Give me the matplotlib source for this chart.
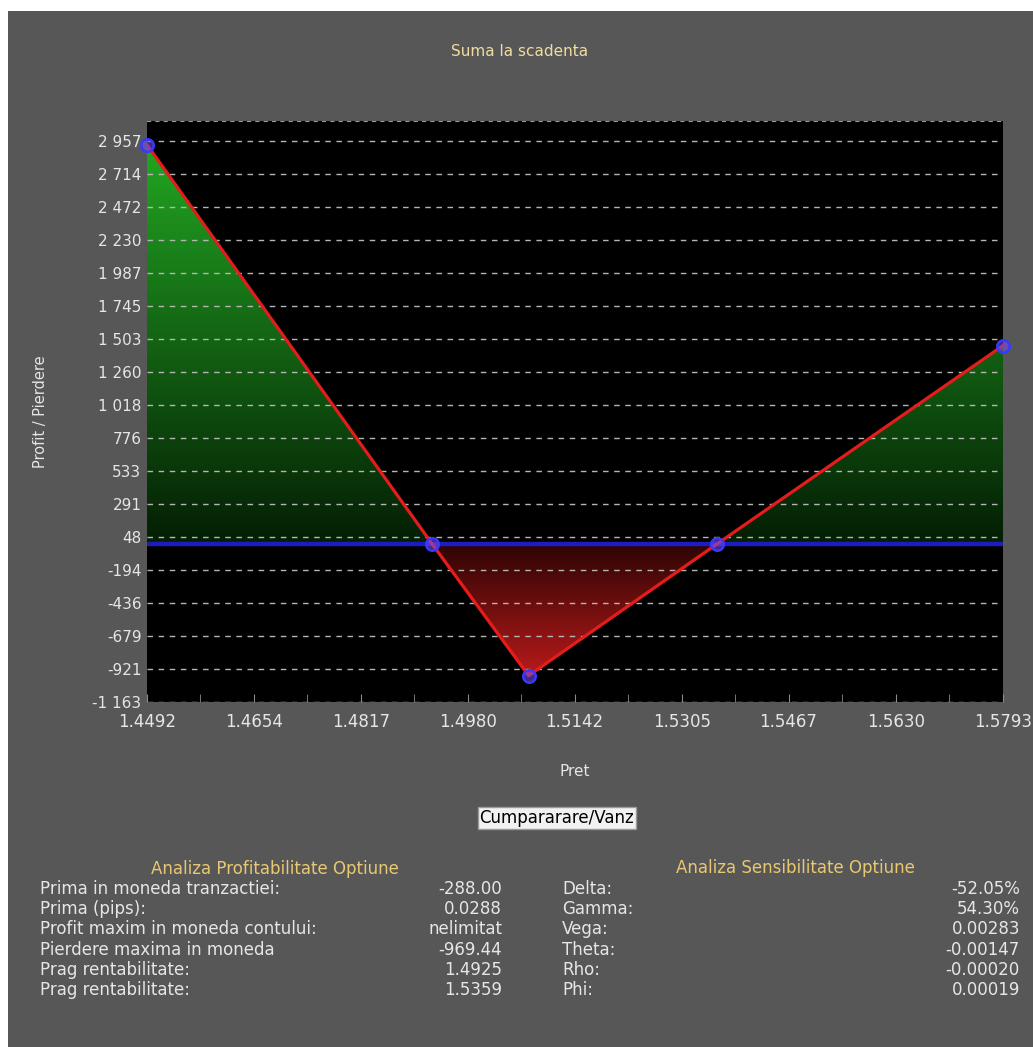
import numpy as np
import matplotlib
matplotlib.use('Agg')
import matplotlib.pyplot as plt
from matplotlib.colors import LinearSegmentedColormap
from matplotlib.patches import Rectangle

# payoff at expiry
price = [1.4492, 1.4925, 1.5072, 1.5359, 1.5793]
pl = [2930, 0, -969.44, 0, 1455]

ytick_vals = [-1163, -921, -679, -436, -194, 48, 291, 533, 776, 1018, 1260, 1503, 1745, 1987, 2230, 2472, 2714, 2957]
ytick_lbls = ["-1 163", "-921", "-679", "-436", "-194", "48", "291", "533", "776", "1 018", "1 260", "1 503", "1 745", "1 987", "2 230", "2 472", "2 714", "2 957"]
xtick_lbls = ["1.4492", "1.4654", "1.4817", "1.4980", "1.5142", "1.5305", "1.5467", "1.5630", "1.5793"]
xtick_vals = [float(s) for s in xtick_lbls]

profit_rows = ["Prima in moneda tranzactiei:", "Prima (pips):", "Profit maxim in moneda contului:",
               "Pierdere maxima in moneda", "Prag rentabilitate:", "Prag rentabilitate:"]
profit_vals = ["-288.00", "0.0288", "nelimitat", "-969.44", "1.4925", "1.5359"]
sens_rows = ["Delta:", "Gamma:", "Vega:", "Theta:", "Rho:", "Phi:"]
sens_vals = ["-52.05%", "54.30%", "0.00283", "-0.00147", "-0.00020", "0.00019"]

W, H = 1033, 1047
BG = '#575757'
TXT = '#e6e6e6'
GOLD = '#e8c870'

fig = plt.figure(figsize=(W / 100, H / 100), dpi=100, facecolor='white')
fig.patches.append(Rectangle((8 / W, 0), 1 - 8 / W, 1 - 11 / H, transform=fig.transFigure,
                             facecolor=BG, edgecolor='none', zorder=-10))

ax = fig.add_axes([147 / W, 1 - 702 / H, (1003 - 147) / W, (702 - 121) / H])
ax.set_facecolor('black')
for s in ax.spines.values():
    s.set_visible(False)

x0, x1 = price[0], price[-1]
ytop = 3105
ybot = -1163

# gradient fills, clipped to the area between curve and zero
grad = np.linspace(0, 1, 256).reshape(-1, 1)
green_cm = LinearSegmentedColormap.from_list('g', ['#041e04', '#22a622'])
red_cm = LinearSegmentedColormap.from_list('r', ['#b81a1a', '#2e0404'])
pl_arr = np.array(pl)

pos = ax.fill_between(price, np.maximum(pl_arr, 0), 0, facecolor='none', edgecolor='none')
im = ax.imshow(grad, cmap=green_cm, extent=[x0, x1, 0, pl_arr.max()], origin='lower',
               aspect='auto', zorder=1, interpolation='bilinear')
im.set_clip_path(pos.get_paths()[0], transform=ax.transData)

neg = ax.fill_between(price, np.minimum(pl_arr, 0), 0, facecolor='none', edgecolor='none')
im2 = ax.imshow(grad, cmap=red_cm, extent=[x0, x1, pl_arr.min(), 0], origin='lower',
                aspect='auto', zorder=1, interpolation='bilinear')
im2.set_clip_path(neg.get_paths()[0], transform=ax.transData)

ax.axhline(0, color='#1c1cc0', lw=3.2, zorder=3)
ax.plot(price, pl, color='#e51c1c', lw=2.3, zorder=4)
ax.plot(price, pl, 'o', ms=9, mfc=(0.45, 0.3, 0.95, 0.55), mec='#3838ff', mew=1.8, zorder=5, clip_on=False)

ax.set_xlim(x0, x1)
ax.set_ylim(ybot, ytop)

ax.set_yticks(ytick_vals)
ax.set_yticklabels(ytick_lbls)
ax.set_xticks(xtick_vals)
ax.set_xticklabels(xtick_lbls)
mids = [(a + b) / 2 for a, b in zip(xtick_vals[:-1], xtick_vals[1:])]
ax.set_xticks(mids, minor=True)

ax.set_axisbelow(False)
ax.grid(axis='y', color='#b5b5b5', linestyle=(0, (4, 4)), lw=1)
ax.axhline(ytop, color='#9a9a9a', linestyle=(0, (2, 2)), lw=1.5, zorder=2)

ax.tick_params(axis='y', length=0, pad=4, labelsize=11, labelcolor=TXT)
ax.tick_params(axis='x', which='both', direction='in', length=6, color='#8a8a8a',
               pad=8, labelsize=12, labelcolor=TXT)

ax.set_xlabel("Pret", color=TXT, fontsize=11, labelpad=24)
ax.set_ylabel("Profit / Pierdere", color=TXT, fontsize=10.5, va='center')
ax.yaxis.set_label_coords((40 - 147) / (1003 - 147), 0.5)

fig.text(520 / W, 1 - 52 / H, "Suma la scadenta", color='#f0dca0', fontsize=11, ha='center', va='center')

fig.text(557 / W, 1 - 818 / H, "Cumpararare/Vanz", color='black', fontsize=12, ha='center', va='center',
         bbox=dict(boxstyle='square,pad=0.12', facecolor='#f2f2f2', edgecolor='#9a9a9a', lw=1))

# analysis tables
fig.text(275 / W, 1 - 869 / H, "Analiza Profitabilitate Optiune", color=GOLD, fontsize=12, ha='center', va='center')
fig.text(795 / W, 1 - 868 / H, "Analiza Sensibilitate Optiune", color=GOLD, fontsize=12, ha='center', va='center')
for i in range(len(profit_rows)):
    y = 1 - (889 + i * 20.2) / H
    fig.text(40 / W, y, profit_rows[i], color=TXT, fontsize=12, ha='left', va='center')
    fig.text(502 / W, y, profit_vals[i], color=TXT, fontsize=12, ha='right', va='center')
    fig.text(562 / W, y, sens_rows[i], color=TXT, fontsize=12, ha='left', va='center')
    fig.text(1020 / W, y, sens_vals[i], color=TXT, fontsize=12, ha='right', va='center')

fig.savefig('out.png', dpi=100, facecolor=fig.get_facecolor())
